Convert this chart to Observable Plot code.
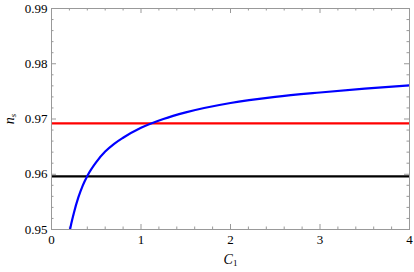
<!DOCTYPE html>
<html>
<head>
<meta charset="utf-8">
<script src="https://cdn.jsdelivr.net/npm/d3@7"></script>
<script src="https://cdn.jsdelivr.net/npm/@observablehq/plot@0.6"></script>
<style>
  html, body { margin: 0; padding: 0; background: #fff; }
  svg { display: block; }
  svg text { font-family: "Liberation Serif", "Times New Roman", "DejaVu Serif", serif !important; }
</style>
</head>
<body>
<div id="chart"></div>
<script>
// Blue curve n_s(C1)
const curveC1 = [0.207, 0.22, 0.25, 0.30, 0.35, 0.40, 0.50, 0.60, 0.70, 0.80, 1.00, 1.25, 1.50, 2.00, 2.50, 3.00, 3.50, 4.00];
const curveNs = [0.9500, 0.9510, 0.9530, 0.9558, 0.9580, 0.9597, 0.9622, 0.9641, 0.9655, 0.9666, 0.9684, 0.9700, 0.9712, 0.9729, 0.9740, 0.9748, 0.9755, 0.9761];
// Horizontal reference lines
const redLevel = 0.9692;
const blackLevel = 0.9596;
// Ticks
const xMajor = [0, 1, 2, 3, 4];
const xMinor = [0.2, 0.4, 0.6, 0.8, 1.2, 1.4, 1.6, 1.8, 2.2, 2.4, 2.6, 2.8, 3.2, 3.4, 3.6, 3.8];
const yMajor = [0.95, 0.96, 0.97, 0.98, 0.99];
const yMinor = [0.952, 0.954, 0.956, 0.958, 0.962, 0.964, 0.966, 0.968, 0.972, 0.974, 0.976, 0.978, 0.982, 0.984, 0.986, 0.988];

const curve = curveC1.map((c, i) => ({c, n: curveNs[i]}));

const W = 414, H = 272;
const mL = 51, mR = 5, mT = 8, mB = 43;
const innerH = H - mT - mB;
const innerW = W - mL - mR;
const tickCol = "#999";
const majLen = 5, minLen = 2.5;
const serif = "\"Liberation Serif\", \"Times New Roman\", \"DejaVu Serif\", serif";

const plot = Plot.plot({
  width: W,
  height: H,
  marginLeft: mL,
  marginRight: mR,
  marginTop: mT,
  marginBottom: mB,
  style: "font-family: " + serif + "; font-size: 13px; color: #000; background: #fff;",
  x: {domain: [0, 4]},
  y: {domain: [0.95, 0.99]},
  marks: [
    // inward frame ticks: bottom / top
    Plot.tickX(xMajor, {x: d => d, stroke: tickCol, insetTop: innerH - majLen}),
    Plot.tickX(xMajor, {x: d => d, stroke: tickCol, insetBottom: innerH - majLen}),
    Plot.tickX(xMinor, {x: d => d, stroke: tickCol, insetTop: innerH - minLen}),
    Plot.tickX(xMinor, {x: d => d, stroke: tickCol, insetBottom: innerH - minLen}),
    // left / right
    Plot.tickY(yMajor, {y: d => d, stroke: tickCol, insetRight: innerW - majLen}),
    Plot.tickY(yMajor, {y: d => d, stroke: tickCol, insetLeft: innerW - majLen}),
    Plot.tickY(yMinor, {y: d => d, stroke: tickCol, insetRight: innerW - minLen}),
    Plot.tickY(yMinor, {y: d => d, stroke: tickCol, insetLeft: innerW - minLen}),
    Plot.axisX({ticks: xMajor, tickSize: 0, tickPadding: 5, tickFormat: d3.format("d"),
      label: "C1", labelAnchor: "center", labelArrow: "none", labelOffset: 34, fontSize: 13, fontFamily: serif}),
    Plot.axisY({ticks: yMajor, tickSize: 0, tickPadding: 4, tickFormat: d3.format(".2f"),
      label: "ns", labelAnchor: "center", labelArrow: "none", labelOffset: 47, fontSize: 13, fontFamily: serif}),
    Plot.ruleY([redLevel], {y: d => d, stroke: "#ff0000", strokeWidth: 2.2}),
    Plot.ruleY([blackLevel], {y: d => d, stroke: "#000000", strokeWidth: 2.2}),
    Plot.line(curve, {x: "c", y: "n", stroke: "#0000ff", strokeWidth: 2.2, curve: "monotone-x", clip: true}),
    Plot.frame({stroke: tickCol, strokeWidth: 1})
  ]
});

// Style axis labels with italic letter and subscript; force serif font
d3.select(plot).selectAll("text").each(function() {
  const t = d3.select(this);
  t.style("font-family", serif, "important");
  const txt = t.text();
  if (txt === "C1" || txt === "ns") {
    const main = txt[0], sub = txt[1];
    t.text(null);
    t.append("tspan").attr("font-style", "italic").attr("font-size", 14).text(main);
    t.append("tspan").attr("font-size", 9).attr("dy", "0.3em").attr("font-style", sub === "s" ? "italic" : "normal").text(sub);
  }
});

document.getElementById("chart").appendChild(plot);
</script>
</body>
</html>
